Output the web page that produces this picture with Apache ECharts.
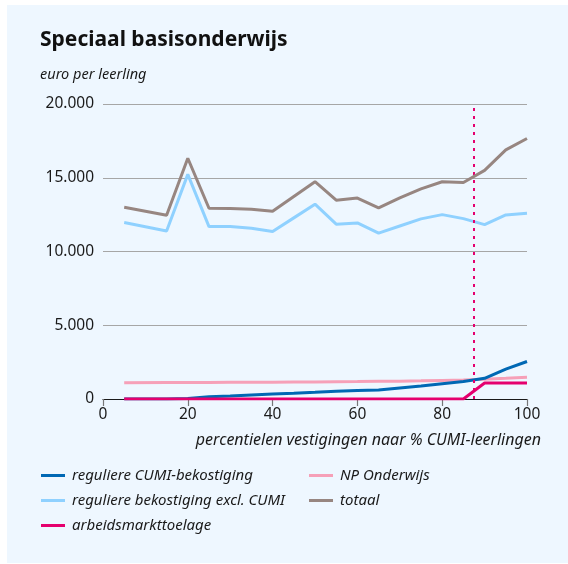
<!DOCTYPE html>
<html>
<head>
<meta charset="utf-8">
<script src="https://cdn.jsdelivr.net/npm/echarts@6/dist/echarts.min.js"></script>
<style>
  html, body { margin: 0; padding: 0; background: #ffffff; }
  #chart { width: 568px; height: 564px; }
</style>
</head>
<body>
<div id="chart"></div>
<script>
// percentiel van vestigingen (x-as)
const percentielen = [5, 15, 20, 25, 30, 35, 40, 45, 50, 55, 60, 65, 70, 75, 80, 85, 90, 95, 100]

const reguliereCumi = [0, 0, 30, 160, 200, 270, 340, 390, 450, 520, 570, 610, 750, 880, 1040, 1180, 1400, 2020, 2540]
const reguliereExcl = [11960, 11390, 15230, 11690, 11690, 11570, 11350, 12280, 13210, 11850, 11940, 11250, 11730, 12210, 12500, 12230, 11820, 12480, 12590]
const arbeidsmarkt = [0, 0, 0, 0, 0, 0, 0, 0, 0, 0, 0, 0, 0, 0, 0, 0, 1080, 1080, 1080]
const npOnderwijs = [1110, 1115, 1120, 1125, 1130, 1135, 1140, 1150, 1160, 1170, 1180, 1195, 1210, 1230, 1260, 1290, 1340, 1400, 1470]
const totaal = [13000, 12460, 16320, 12930, 12910, 12870, 12730, 13730, 14730, 13480, 13620, 12960, 13640, 14250, 14730, 14680, 15500, 16890, 17660]

const yTicks = [0, 5000, 10000, 15000, 20000]
const grensPercentiel = 87.5

const namen = {
  cumi: 'reguliere CUMI-bekostiging',
  excl: 'reguliere bekostiging excl. CUMI',
  arbeid: 'arbeidsmarkttoelage',
  np: 'NP Onderwijs',
  totaal: 'totaal'
}

const kleuren = {
  cumi: '#0068b4',
  excl: '#8fd1ff',
  arbeid: '#e5006e',
  np: '#f6a0b8',
  totaal: '#978681'
}

const font = '"Noto Sans", sans-serif'

function pairs (ys) {
  return percentielen.map((x, i) => [x, ys[i]])
}

function lineSerie (key, ys, z) {
  return {
    name: namen[key],
    type: 'line',
    data: pairs(ys),
    symbol: 'none',
    z: z,
    lineStyle: { color: kleuren[key], width: 3 },
    itemStyle: { color: kleuren[key] }
  }
}

const chart = echarts.init(document.getElementById('chart'))

const legendBase = {
  orient: 'vertical',
  icon: 'rect',
  itemWidth: 24,
  itemHeight: 3,
  itemGap: 10,
  selectedMode: false,
  textStyle: { fontFamily: font, fontStyle: 'italic', fontSize: 15, color: '#1a1a1a', padding: [0, 0, 0, 2] }
}

const option = {
  animation: false,
  backgroundColor: '#ffffff',
  graphic: [
    {
      type: 'rect',
      shape: { x: 7, y: 5, width: 561, height: 558 },
      style: { fill: '#eef7ff' },
      z: -10
    },
    {
      type: 'text',
      left: 40,
      top: 30,
      style: { text: 'Speciaal basisonderwijs', font: 'bold 21px ' + font, fill: '#111111' }
    },
    {
      type: 'text',
      left: 40,
      top: 67,
      style: { text: 'euro per leerling', font: 'italic 14.5px ' + font, fill: '#1a1a1a' }
    },
    {
      type: 'text',
      right: 27,
      top: 432,
      style: { text: 'percentielen vestigingen naar % CUMI-leerlingen', font: 'italic 16px ' + font, fill: '#1a1a1a' }
    }
  ],
  legend: [
    Object.assign({}, legendBase, {
      left: 36,
      top: 463,
      data: [namen.cumi, namen.excl, namen.arbeid]
    }),
    Object.assign({}, legendBase, {
      left: 304,
      top: 463,
      data: [namen.np, namen.totaal]
    })
  ],
  grid: { left: 103, right: 41, top: 104, bottom: 165 },
  xAxis: {
    type: 'value',
    min: 0,
    max: 100,
    interval: 20,
    axisLine: { show: true, lineStyle: { color: '#1a1a1a', width: 1.2 } },
    axisTick: { show: true, length: 7, lineStyle: { color: '#777777', width: 1.2 } },
    axisLabel: { fontFamily: font, fontSize: 15.5, color: '#1a1a1a', margin: 8 },
    splitLine: { show: false }
  },
  yAxis: {
    type: 'value',
    min: yTicks[0],
    max: yTicks[yTicks.length - 1],
    interval: 5000,
    axisLine: { show: false },
    axisTick: { show: false },
    axisLabel: {
      fontFamily: font,
      fontSize: 15.5,
      color: '#1a1a1a',
      margin: 9,
      formatter: v => v.toLocaleString('nl-NL')
    },
    splitLine: { lineStyle: { color: '#a6a6a6', width: 1.2 } }
  },
  series: [
    lineSerie('np', npOnderwijs, 2),
    lineSerie('cumi', reguliereCumi, 3),
    lineSerie('excl', reguliereExcl, 4),
    lineSerie('totaal', totaal, 5),
    Object.assign(lineSerie('arbeid', arbeidsmarkt, 6), {
      markLine: {
        silent: true,
        symbol: 'none',
        label: { show: false },
        lineStyle: { color: '#e5006e', type: [3, 5], width: 2 },
        data: [{ xAxis: grensPercentiel }]
      }
    })
  ]
}

chart.setOption(option)
</script>
</body>
</html>
